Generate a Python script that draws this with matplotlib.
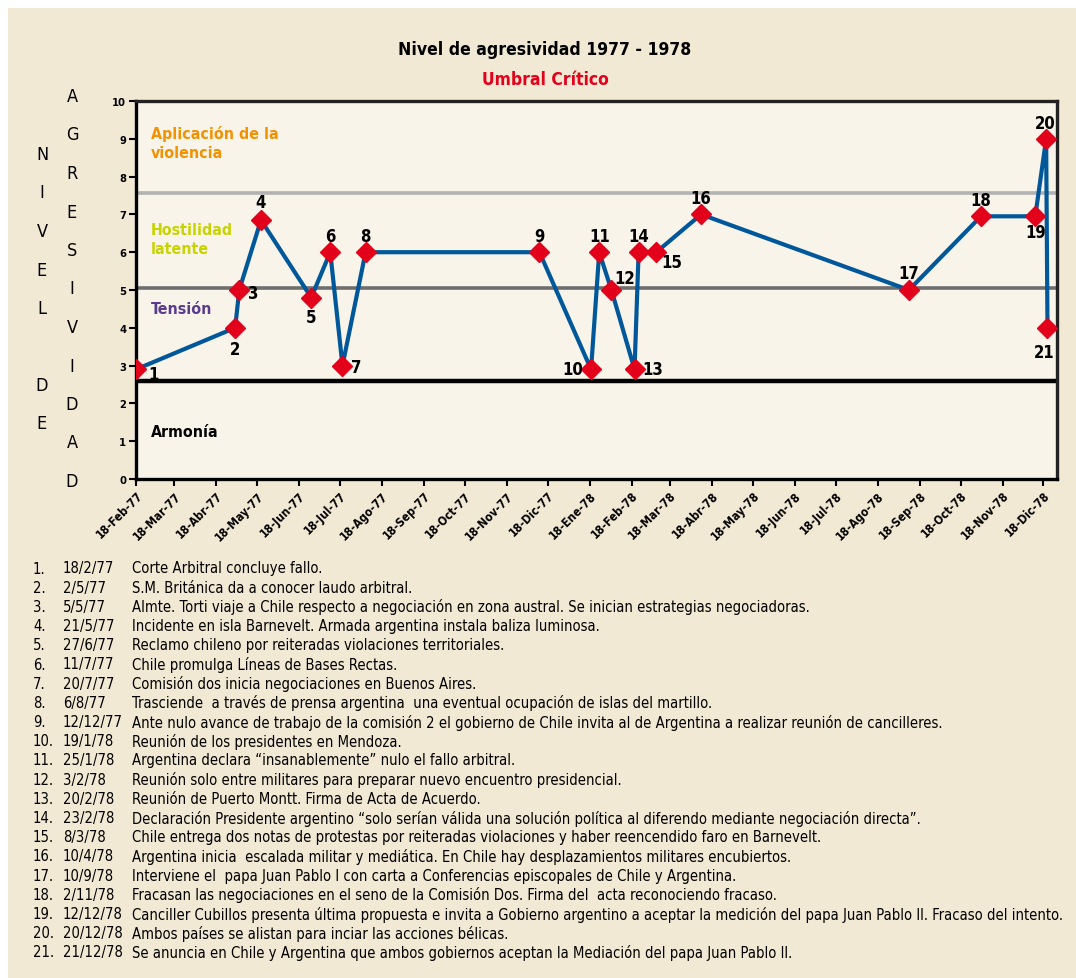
import datetime as dt
import matplotlib
matplotlib.use('Agg')
import matplotlib.pyplot as plt
from matplotlib.patches import Rectangle

plt.rcParams['font.family'] = ['Liberation Sans Narrow', 'DejaVu Sans']
plt.rcParams['font.stretch'] = 'condensed'

# event data
fechas = ['1977-02-18', '1977-05-02', '1977-05-05', '1977-05-21', '1977-06-27',
          '1977-07-11', '1977-07-20', '1977-08-06', '1977-12-12', '1978-01-19',
          '1978-01-25', '1978-02-03', '1978-02-20', '1978-02-23', '1978-03-08',
          '1978-04-10', '1978-09-10', '1978-11-02', '1978-12-12', '1978-12-20',
          '1978-12-21']
niveles = [2.9, 4.0, 5.0, 6.85, 4.8, 6.0, 3.0, 6.0, 6.0, 2.9,
           6.0, 5.0, 2.9, 6.0, 6.0, 7.0, 5.0, 6.95, 6.95, 9.0, 4.0]
# label offsets (pixels)
offsets = [(17, -5), (0, -21), (14, -3), (0, 18), (0, -19), (0, 16), (14, -1),
           (0, 16), (0, 16), (-18, 0), (0, 16), (13, 12), (18, 0), (0, 16),
           (15, -10), (0, 16), (0, 17), (0, 16), (0, -16), (-1, 16), (-3, -24)]

meses = ['Feb-77', 'Mar-77', 'Abr-77', 'May-77', 'Jun-77', 'Jul-77', 'Ago-77',
         'Sep-77', 'Oct-77', 'Nov-77', 'Dic-77', 'Ene-78', 'Feb-78', 'Mar-78',
         'Abr-78', 'May-78', 'Jun-78', 'Jul-78', 'Ago-78', 'Sep-78', 'Oct-78',
         'Nov-78', 'Dic-78']

umbral_armonia = 2.6
umbral_tension = 5.05
umbral_hostil = 7.57

eventos = [
    ('1.', '18/2/77', 'Corte Arbitral concluye fallo.'),
    ('2.', '2/5/77', 'S.M. Británica da a conocer laudo arbitral.'),
    ('3.', '5/5/77', 'Almte. Torti viaje a Chile respecto a negociación en zona austral. Se inician estrategias negociadoras.'),
    ('4.', '21/5/77', 'Incidente en isla Barnevelt. Armada argentina instala baliza luminosa.'),
    ('5.', '27/6/77', 'Reclamo chileno por reiteradas violaciones territoriales.'),
    ('6.', '11/7/77', 'Chile promulga Líneas de Bases Rectas.'),
    ('7.', '20/7/77', 'Comisión dos inicia negociaciones en Buenos Aires.'),
    ('8.', '6/8/77', 'Trasciende  a través de prensa argentina  una eventual ocupación de islas del martillo.'),
    ('9.', '12/12/77', 'Ante nulo avance de trabajo de la comisión 2 el gobierno de Chile invita al de Argentina a realizar reunión de cancilleres.'),
    ('10.', '19/1/78', 'Reunión de los presidentes en Mendoza.'),
    ('11.', '25/1/78', 'Argentina declara “insanablemente” nulo el fallo arbitral.'),
    ('12.', '3/2/78', 'Reunión solo entre militares para preparar nuevo encuentro presidencial.'),
    ('13.', '20/2/78', 'Reunión de Puerto Montt. Firma de Acta de Acuerdo.'),
    ('14.', '23/2/78', 'Declaración Presidente argentino “solo serían válida una solución política al diferendo mediante negociación directa”.'),
    ('15.', '8/3/78', 'Chile entrega dos notas de protestas por reiteradas violaciones y haber reencendido faro en Barnevelt.'),
    ('16.', '10/4/78', 'Argentina inicia  escalada militar y mediática. En Chile hay desplazamientos militares encubiertos.'),
    ('17.', '10/9/78', 'Interviene el  papa Juan Pablo I con carta a Conferencias episcopales de Chile y Argentina.'),
    ('18.', '2/11/78', 'Fracasan las negociaciones en el seno de la Comisión Dos. Firma del  acta reconociendo fracaso.'),
    ('19.', '12/12/78', 'Canciller Cubillos presenta última propuesta e invita a Gobierno argentino a aceptar la medición del papa Juan Pablo II. Fracaso del intento.'),
    ('20.', '20/12/78', 'Ambos países se alistan para inciar las acciones bélicas.'),
    ('21.', '21/12/78', 'Se anuncia en Chile y Argentina que ambos gobiernos aceptan la Mediación del papa Juan Pablo II.'),
]

W, H = 1076, 979
fig = plt.figure(figsize=(W / 100, H / 100), dpi=100, facecolor='white')
fig.patches.append(Rectangle((8 / W, 0), 1 - 8 / W, 1 - 9 / H, transform=fig.transFigure,
                             facecolor='#F2E9D4', edgecolor='none', zorder=-10))

ax = fig.add_axes([136 / W, 1 - 480 / H, (1057 - 136) / W, (480 - 102) / H])
ax.set_facecolor('#F8F4EA')

x = [dt.datetime.strptime(f, '%Y-%m-%d') for f in fechas]
ax.axhline(umbral_armonia, color='black', lw=3.2, zorder=2)
ax.axhline(umbral_tension, color='#6E6E6E', lw=2.6, zorder=2)
ax.axhline(umbral_hostil, color='#B2B2B2', lw=2.6, zorder=2)
ax.plot(x, niveles, color='#00589A', lw=3, zorder=3, solid_joinstyle='miter')
ax.plot(x, niveles, ls='none', marker='D', ms=10, color='#E2001A', zorder=4)

for i, (xi, yi) in enumerate(zip(x, niveles)):
    ax.annotate(str(i + 1), (xi, yi), xytext=offsets[i], textcoords='offset pixels',
                ha='center', va='center', fontsize=12, fontweight='bold', zorder=5)

ax.set_xlim(dt.datetime(1977, 2, 18), dt.datetime(1978, 12, 28))
ax.set_ylim(0, 10)
ticks = []
for k in range(len(meses)):
    m = 2 + k
    ticks.append(dt.datetime(1977 + (m - 1) // 12, (m - 1) % 12 + 1, 18))
ax.set_xticks(ticks)
ax.set_xticklabels(['18-' + m for m in meses], rotation=45, ha='right',
                   rotation_mode='anchor', fontsize=8.5, fontweight='bold')
ax.set_yticks(range(11))
ax.set_yticklabels([str(v) for v in range(11)], fontsize=8, fontweight='bold')
ax.tick_params(length=5, width=1.5, pad=2)
for s in ['left', 'bottom', 'top']:
    ax.spines[s].set_linewidth(2.4)
    ax.spines[s].set_color('black')
ax.spines['right'].set_linewidth(2.4)
ax.spines['right'].set_color('#222222')
ax.spines['top'].set_color('#222222')

# zone labels
x0 = dt.datetime(1977, 3, 1)
t_apl = ax.text(x0, 8.9, 'Aplicación de la\nviolencia', color='#F39200',
                fontsize=13.5, fontweight='bold', va='center', linespacing=1.3)
t_hos = ax.text(x0, 6.35, 'Hostilidad\nlatente', color='#C8D300',
                fontsize=13.5, fontweight='bold', va='center', linespacing=1.3)
t_ten = ax.text(x0, 4.5, 'Tensión', color='#5A3B8C',
                fontsize=13.5, fontweight='bold', va='center')
t_arm = ax.text(x0, 1.25, 'Armonía', color='black',
                fontsize=13.5, fontweight='bold', va='center')

# titles
t_tit = fig.text(545 / W, 1 - 50 / H, 'Nivel de agresividad 1977 - 1978', ha='center',
                 va='center', fontsize=16, fontweight='bold')
t_sub = fig.text(545 / W, 1 - 80 / H, 'Umbral Crítico', ha='center', va='center',
                 fontsize=14.5, fontweight='bold', color='#E2001A')

# vertical axis title as stacked letters
for j, ch in enumerate('AGRESIVIDAD'):
    fig.text(72 / W, 1 - (97 + j * 38.5) / H, ch, ha='center', va='center', fontsize=13)
for j, ch in enumerate('NIVEL DE'):
    if ch != ' ':
        fig.text(42 / W, 1 - (155 + j * 38.5) / H, ch, ha='center', va='center', fontsize=13)

# event list
nums, dates, descs = [], [], []
for k, (num, fecha, txt) in enumerate(eventos):
    yy = 1 - (569 + k * 19.2) / H
    nums.append(fig.text(33 / W, yy, num, va='center', fontsize=11))
    dates.append(fig.text(63 / W, yy, fecha, va='center', fontsize=11))
    descs.append(fig.text(132 / W, yy, txt, va='center', fontsize=11))

# fit text widths to the reference (the narrow face may be missing)
fig.canvas.draw()
rend = fig.canvas.get_renderer()


def fit(texts, ref, target):
    w = ref.get_window_extent(rend).width
    f = min(max(target / w, 0.55), 1.3)
    for t in texts:
        t.set_fontsize(t.get_fontsize() * f)


fit([t_tit], t_tit, 294)
fit([t_sub], t_sub, 126)
fit([t_apl, t_hos, t_ten, t_arm], t_apl, 127)
fit(nums + dates + descs, descs[18], 932)

fig.savefig('out.png', dpi=100, facecolor=fig.get_facecolor())
